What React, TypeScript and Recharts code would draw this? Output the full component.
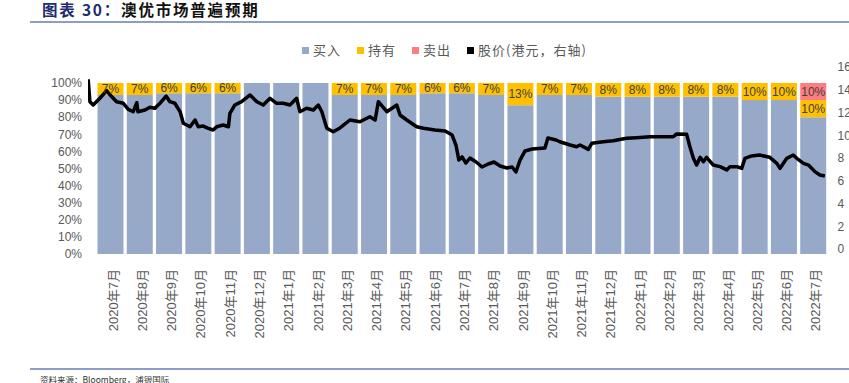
import React from 'react';
import { ComposedChart, Bar, Line, XAxis, YAxis, LabelList } from 'recharts';

const months = [
  '2020年7月', '2020年8月', '2020年9月', '2020年10月', '2020年11月', '2020年12月',
  '2021年1月', '2021年2月', '2021年3月', '2021年4月', '2021年5月', '2021年6月',
  '2021年7月', '2021年8月', '2021年9月', '2021年10月', '2021年11月', '2021年12月',
  '2022年1月', '2022年2月', '2022年3月', '2022年4月', '2022年5月', '2022年6月', '2022年7月',
];
const buy = [93, 93, 94, 94, 94, 100, 100, 100, 93, 93, 93, 94, 94, 93, 87, 93, 93, 92, 92, 92, 92, 92, 90, 90, 80];
const hold = [7, 7, 6, 6, 6, 0, 0, 0, 7, 7, 7, 6, 6, 7, 13, 7, 7, 8, 8, 8, 8, 8, 10, 10, 10];
const sell = [0, 0, 0, 0, 0, 0, 0, 0, 0, 0, 0, 0, 0, 0, 0, 0, 0, 0, 0, 0, 0, 0, 0, 0, 10];

// price time position in months since start of Jul-2020
const priceTime = [
  -0.25, -0.19, -0.08, 0.15, 0.38, 0.5, 0.72, 0.95, 1.12, 1.29, 1.41, 1.45, 1.69, 1.86, 2.03, 2.2, 2.41, 2.54, 2.71, 2.89,
  3.0, 3.23, 3.4, 3.51, 3.68, 3.85, 4.02, 4.14, 4.36, 4.54, 4.59, 4.76, 4.99, 5.28, 5.51, 5.73, 5.96, 6.19, 6.41, 6.64,
  6.87, 6.98, 7.21, 7.44, 7.61, 7.73, 7.9, 8.12, 8.35, 8.69, 9.03, 9.37, 9.55, 9.66, 9.95, 10.29, 10.4, 10.63, 10.97, 11.2,
  11.59, 11.94, 12.18, 12.31, 12.41, 12.52, 12.65, 12.79, 13.0, 13.2, 13.41, 13.61, 13.82, 14.05, 14.23, 14.36, 14.5, 14.67, 14.91, 15.35,
  15.45, 15.73, 15.86, 16.21, 16.43, 16.55, 16.83, 16.95, 17.34, 17.68, 18.14, 18.48, 18.94, 19.73, 19.85, 20.19, 20.3, 20.42, 20.53, 20.65,
  20.76, 20.87, 21.1, 21.33, 21.56, 21.67, 21.9, 22.07, 22.18, 22.41, 22.67, 23.03, 23.27, 23.38, 23.61, 23.83, 23.95, 24.18, 24.35, 24.57,
  24.74, 24.91,
];
const priceValue = [
  14.92, 12.94, 12.66, 13.25, 13.92, 13.54, 12.95, 12.81, 12.28, 12.07, 12.86, 12.07, 12.22, 12.46, 12.37, 12.81, 13.45, 12.95, 12.81, 12.07,
  11.05, 10.75, 11.34, 10.75, 10.81, 10.61, 10.46, 10.75, 10.9, 10.75, 11.93, 12.66, 12.95, 13.54, 12.95, 12.66, 13.25, 12.81, 12.81, 12.66,
  13.25, 12.07, 12.37, 12.22, 12.66, 12.07, 10.61, 10.31, 10.64, 11.34, 11.19, 11.63, 11.34, 12.95, 12.07, 12.66, 11.78, 11.34, 10.75, 10.61,
  10.46, 10.37, 10.02, 9.14, 7.82, 8.09, 7.56, 8.0, 7.65, 7.21, 7.47, 7.65, 7.3, 7.12, 7.21, 6.77, 7.82, 8.62, 8.79, 8.88,
  9.76, 9.58, 9.43, 9.14, 8.99, 9.14, 8.76, 9.29, 9.43, 9.52, 9.73, 9.78, 9.87, 9.87, 10.11, 10.08, 8.99, 7.97, 7.38, 8.06,
  7.67, 8.06, 7.38, 7.24, 6.95, 7.24, 7.24, 7.09, 7.97, 8.18, 8.26, 8.06, 7.53, 7.09, 7.97, 8.26, 7.97, 7.53, 7.38, 6.8,
  6.51, 6.42,
];

const leftTicks = [0, 10, 20, 30, 40, 50, 60, 70, 80, 90, 100];
const rightTicks = [0, 2, 4, 6, 8, 10, 12, 14, 16];

const barData = months.map((m, i) => ({ month: m, buy: buy[i], hold: hold[i], sell: sell[i] }));
const priceData = priceTime.map((t, i) => ({ t, price: priceValue[i] }));

const C_BUY = '#97A9C9';
const C_HOLD = '#FFC000';
const C_SELL = '#FF7C80';
const FONT = "'Liberation Sans', 'Noto Sans CJK SC', sans-serif";

const XTick = (props: any) => {
  const { x, y, payload } = props;
  const tx = x + 3;
  return (
    <text x={tx} y={y} transform={`rotate(-90 ${tx} ${y})`} textAnchor="end" dominantBaseline="central" fontSize={13} fill="#595959">
      {payload.value}
    </text>
  );
};

const pct = (v: any) => (v && Number(v) > 0 ? `${v}%` : '');

const legendItems = [
  { label: '买入', color: C_BUY },
  { label: '持有', color: C_HOLD },
  { label: '卖出', color: C_SELL },
  { label: '股价(港元，右轴)', color: '#000000' },
];

export default function App() {
  return (
    <div style={{ position: 'absolute', left: 0, top: 0, width: 849, height: 383, background: '#fff', fontFamily: FONT, overflow: 'hidden' }}>
      <div style={{ position: 'absolute', left: 42, top: 1, height: 16, fontSize: 15.5, lineHeight: '16px', fontWeight: 700, letterSpacing: 1.8, fontFamily: "'Noto Sans CJK SC', sans-serif", whiteSpace: 'nowrap' }}>
        <span style={{ color: '#1F2D6E', display: 'inline-block', lineHeight: '16px', height: 16 }}>图表 30：</span>
        <span style={{ color: '#111', display: 'inline-block', lineHeight: '16px', height: 16 }}>澳优市场普遍预期</span>
      </div>
      <div style={{ position: 'absolute', left: 30, top: 21, width: 819, height: 1.5, background: '#8E9CC8' }} />
      <div style={{ position: 'absolute', left: 302, top: 42, display: 'flex', alignItems: 'center', fontSize: 13, letterSpacing: 1, color: '#595959', fontFamily: "'Noto Sans CJK SC', sans-serif", whiteSpace: 'nowrap', lineHeight: '16px' }}>
        {legendItems.map((it) => (
          <div key={it.label} style={{ display: 'flex', alignItems: 'center', marginRight: 16 }}>
            <div style={{ width: 7, height: 7, background: it.color, marginRight: 4 }} />
            <span>{it.label}</span>
          </div>
        ))}
      </div>
      <div style={{ position: 'absolute', left: 0, top: 0 }}>
        <ComposedChart width={849} height={383} data={barData} margin={{ top: 67, right: 0.5, bottom: 29, left: 38 }} barCategoryGap={3}>
          <XAxis
            xAxisId="cat"
            dataKey="month"
            type="category"
            padding={{ left: 7.5, right: 0 }}
            interval={0}
            tick={<XTick />}
            tickLine={false}
            axisLine={false}
            tickMargin={9}
            height={100}
          />
          <XAxis
            xAxisId="num"
            dataKey="t"
            type="number"
            domain={[-0.256, 25]}
            allowDataOverflow
            hide
          />
          <YAxis
            yAxisId="left"
            orientation="left"
            type="number"
            domain={[0, 109.36]}
            allowDataOverflow
            ticks={leftTicks}
            interval={0}
            tickFormatter={(v: number) => `${v}%`}
            tick={{ fontSize: 12, fill: '#595959' }}
            tickLine={false}
            axisLine={false}
            tickMargin={0}
            width={50}
          />
          <YAxis
            yAxisId="right"
            orientation="right"
            type="number"
            domain={[-0.44, 16]}
            allowDataOverflow
            ticks={rightTicks}
            interval={0}
            tick={{ fontSize: 12, fill: '#595959', textAnchor: 'start' }}
            tickLine={false}
            axisLine={false}
            tickMargin={4}
            width={21}
          />
          <Bar xAxisId="cat" yAxisId="left" dataKey="buy" stackId="s" fill={C_BUY} barSize={26} isAnimationActive={false} />
          <Bar xAxisId="cat" yAxisId="left" dataKey="hold" stackId="s" fill={C_HOLD} barSize={26} isAnimationActive={false}>
            <LabelList dataKey="hold" position="center" formatter={pct} fill="#404040" fontSize={12} />
          </Bar>
          <Bar xAxisId="cat" yAxisId="left" dataKey="sell" stackId="s" fill={C_SELL} barSize={26} isAnimationActive={false}>
            <LabelList dataKey="sell" position="center" formatter={pct} fill="#404040" fontSize={12} />
          </Bar>
          <Line
            xAxisId="num"
            yAxisId="right"
            data={priceData}
            dataKey="price"
            type="linear"
            stroke="#000"
            strokeWidth={3.5}
            strokeLinejoin="round"
            dot={false}
            activeDot={false}
            isAnimationActive={false}
          />
        </ComposedChart>
      </div>
      <div style={{ position: 'absolute', left: 30, top: 368, width: 819, height: 1.5, background: '#8E9CC8' }} />
      <div style={{ position: 'absolute', left: 40, top: 374, fontSize: 8.5, lineHeight: '10px', color: '#333', fontFamily: "'Noto Sans CJK SC', sans-serif", whiteSpace: 'nowrap' }}>
        资料来源：Bloomberg，浦银国际
      </div>
    </div>
  );
}
